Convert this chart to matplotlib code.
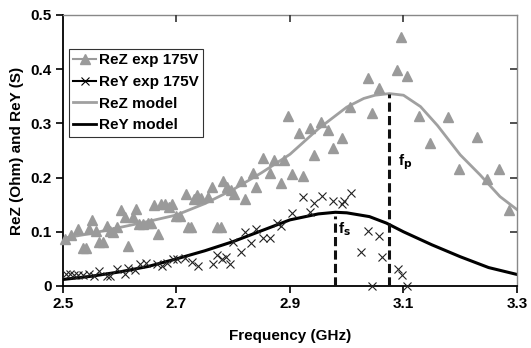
import matplotlib.pyplot as plt
from matplotlib.lines import Line2D

plt.rcParams['font.family'] = ['Liberation Sans', 'DejaVu Sans']
plt.rcParams['font.weight'] = 'bold'

# measured ReZ (triangles)
rez_f = [2.503, 2.515, 2.526, 2.535, 2.540, 2.545, 2.551, 2.558, 2.563, 2.570,
         2.577, 2.583, 2.589, 2.596, 2.602, 2.609, 2.615, 2.623, 2.629, 2.634,
         2.641, 2.649, 2.655, 2.660, 2.667, 2.673, 2.680, 2.686, 2.692, 2.699,
         2.706, 2.716, 2.720, 2.726, 2.731, 2.737, 2.743, 2.756, 2.762, 2.771,
         2.778, 2.782, 2.789, 2.796, 2.802, 2.814, 2.821, 2.834, 2.840, 2.853,
         2.865, 2.872, 2.885, 2.890, 2.896, 2.903, 2.916, 2.923, 2.936, 2.942,
         2.955, 2.967, 2.975, 2.992, 3.006, 3.038, 3.044, 3.057, 3.089, 3.096,
         3.107, 3.127, 3.147, 3.179, 3.198, 3.230, 3.248, 3.268, 3.286]
rez_v = [0.086, 0.094, 0.106, 0.070, 0.070, 0.106, 0.122, 0.102, 0.081, 0.081,
         0.111, 0.102, 0.100, 0.109, 0.140, 0.127, 0.074, 0.127, 0.142, 0.114,
         0.114, 0.117, 0.117, 0.149, 0.096, 0.151, 0.151, 0.146, 0.151, 0.129,
         0.129, 0.169, 0.109, 0.109, 0.160, 0.167, 0.163, 0.165, 0.182, 0.108,
         0.108, 0.194, 0.183, 0.178, 0.170, 0.193, 0.160, 0.209, 0.183, 0.236,
         0.208, 0.232, 0.190, 0.232, 0.314, 0.206, 0.282, 0.203, 0.292, 0.242,
         0.302, 0.288, 0.254, 0.273, 0.331, 0.383, 0.319, 0.365, 0.398, 0.460,
         0.387, 0.314, 0.263, 0.312, 0.216, 0.274, 0.198, 0.215, 0.140]

# measured ReY (crosses)
rey_f = [2.506, 2.513, 2.520, 2.527, 2.535, 2.545, 2.555, 2.563, 2.577, 2.583,
         2.596, 2.609, 2.615, 2.627, 2.636, 2.646, 2.666, 2.674, 2.683, 2.694,
         2.701, 2.715, 2.728, 2.738, 2.764, 2.771, 2.781, 2.788, 2.794, 2.800,
         2.813, 2.821, 2.832, 2.840, 2.853, 2.864, 2.877, 2.885, 2.903, 2.923,
         2.935, 2.943, 2.956, 2.975, 2.991, 2.996, 3.007, 3.025, 3.038, 3.045,
         3.057, 3.063, 3.090, 3.098, 3.106]
rey_v = [0.023, 0.023, 0.020, 0.020, 0.020, 0.023, 0.019, 0.028, 0.019, 0.019,
         0.031, 0.022, 0.034, 0.030, 0.041, 0.042, 0.041, 0.036, 0.043, 0.050,
         0.050, 0.052, 0.044, 0.036, 0.040, 0.058, 0.050, 0.054, 0.040, 0.082,
         0.063, 0.100, 0.079, 0.106, 0.089, 0.089, 0.116, 0.111, 0.134, 0.165,
         0.136, 0.153, 0.166, 0.157, 0.151, 0.156, 0.172, 0.063, 0.102, 0.000,
         0.092, 0.054, 0.031, 0.020, 0.000]

# model curves
mz_f = [2.50, 2.55, 2.60, 2.65, 2.70, 2.75, 2.80, 2.85, 2.90, 2.95, 3.00,
        3.03, 3.05, 3.075, 3.10, 3.13, 3.16, 3.20, 3.235, 3.27, 3.305]
mz_v = [0.088, 0.097, 0.108, 0.119, 0.131, 0.152, 0.178, 0.209, 0.243, 0.290,
        0.330, 0.346, 0.352, 0.355, 0.352, 0.331, 0.296, 0.242, 0.205, 0.165, 0.137]
my_f = [2.50, 2.55, 2.60, 2.65, 2.70, 2.75, 2.80, 2.85, 2.90, 2.95, 2.98,
        3.00, 3.04, 3.07, 3.10, 3.15, 3.20, 3.25, 3.305]
my_v = [0.012, 0.018, 0.026, 0.036, 0.050, 0.065, 0.082, 0.102, 0.122, 0.133,
        0.136, 0.135, 0.128, 0.116, 0.100, 0.076, 0.054, 0.034, 0.020]

fs, fs_top = 2.979, 0.130
fp, fp_top = 3.074, 0.354

zgray = '#9a9a9a'
fsize = 11

fig = plt.figure(figsize=(5.31, 3.48), dpi=100)
ax = fig.add_axes([0.1186, 0.1782, 0.855, 0.7787])

ax.plot(mz_f, mz_v, color='#a0a0a0', lw=2, zorder=2)
ax.plot(my_f, my_v, color='black', lw=2.2, zorder=2)
ax.plot(rez_f, rez_v, ls='none', marker='^', ms=7, color=zgray, mec=zgray, zorder=3, clip_on=False)
ax.plot(rey_f, rey_v, ls='none', marker='x', ms=6, mew=0.8, color='#222222', zorder=3, clip_on=False)

ax.plot([fs, fs], [0, fs_top], color='#111111', lw=2.2, ls=(0, (3, 1.4)), zorder=4)
ax.plot([fp, fp], [0, fp_top], color='#111111', lw=2.2, ls=(0, (3, 1.4)), zorder=4)
ax.text(2.985, 0.098, r'f$_\mathbf{s}$', fontsize=fsize, fontweight='bold')
ax.text(3.091, 0.222, r'f$_\mathbf{p}$', fontsize=fsize, fontweight='bold')

ax.set_xlim(2.5, 3.3)
ax.set_ylim(0, 0.5)
ax.set_xticks([2.5, 2.7, 2.9, 3.1, 3.3])
ax.set_xticklabels(['2.5', '2.7', '2.9', '3.1', '3.3'])
ax.set_yticks([0, 0.1, 0.2, 0.3, 0.4, 0.5])
ax.set_yticklabels(['0', '0.1', '0.2', '0.3', '0.4', '0.5'])
ax.tick_params(axis='both', direction='out', length=5, width=1.2, labelsize=fsize, pad=3)
ax.set_xlabel('Frequency (GHz)', fontsize=fsize, fontweight='bold', labelpad=13)
ax.set_ylabel('ReZ (Ohm) and ReY (S)', fontsize=fsize, fontweight='bold', labelpad=5)

for s in ['left', 'bottom']:
    ax.spines[s].set_linewidth(1.3)
    ax.spines[s].set_color('black')
for s in ['top', 'right']:
    ax.spines[s].set_linewidth(1.0)
    ax.spines[s].set_color('#888888')

# inward ticks on the gray frame (twin axes so they can point inwards)
axt = ax.twiny()
axt.set_xlim(ax.get_xlim())
axt.set_xticks([2.7, 2.9, 3.1])
axt.tick_params(axis='x', direction='in', length=5, width=1.2, color='#333333',
                labeltop=False, top=True, bottom=False)
axr = ax.twinx()
axr.set_ylim(ax.get_ylim())
axr.set_yticks([0.1, 0.2, 0.3, 0.4])
axr.tick_params(axis='y', direction='in', length=5, width=1.2, color='#333333',
                labelright=False, right=True, left=False)
for a in (axt, axr):
    for s in a.spines.values():
        s.set_visible(False)

handles = [
    Line2D([], [], color=zgray, lw=1.5, marker='^', ms=7),
    Line2D([], [], color='black', lw=1.5, marker='x', ms=6, mew=0.8),
    Line2D([], [], color='#a0a0a0', lw=2),
    Line2D([], [], color='black', lw=2),
]
labels = ['ReZ exp 175V', 'ReY exp 175V', 'ReZ model', 'ReY model']
leg = ax.legend(handles, labels, loc='upper left', bbox_to_anchor=(0.013, 0.875),
                fontsize=fsize, frameon=True, fancybox=False, edgecolor='black',
                handlelength=1.5, handletextpad=0.15, borderpad=0.3,
                labelspacing=0.5, borderaxespad=0)
leg.get_frame().set_linewidth(0.8)
for t in leg.get_texts():
    t.set_fontweight('bold')

plt.savefig('out.png', dpi=100)
